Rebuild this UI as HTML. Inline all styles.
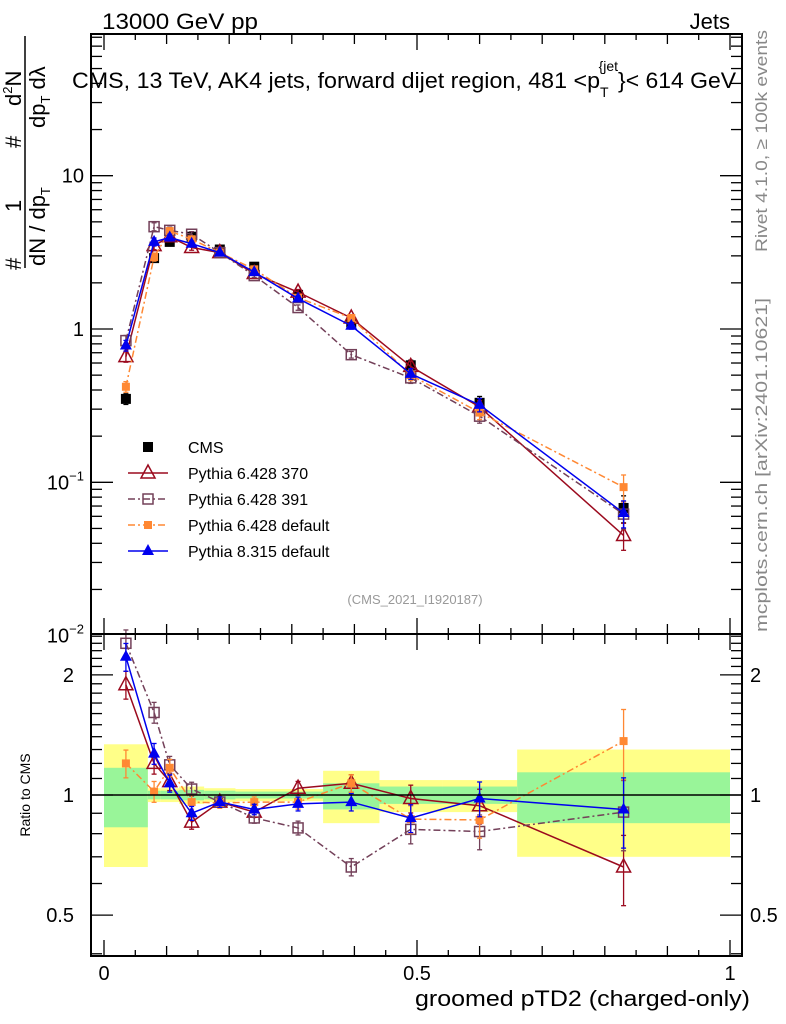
<!DOCTYPE html>
<html><head><meta charset="utf-8">
<style>
html,body{margin:0;padding:0;background:#fff;}
svg{display:block;font-family:"Liberation Sans",sans-serif;}
</style></head>
<body>
<svg id="chart" width="786" height="1024" viewBox="0 0 786 1024" xmlns="http://www.w3.org/2000/svg">
<text x="102" y="29" font-size="22" textLength="156" lengthAdjust="spacingAndGlyphs">13000 GeV pp</text>
<text x="730" y="29" font-size="22" text-anchor="end">Jets</text>
<g id="bands"></g>
<g id="series"></g>
<g id="axes"></g>
<text x="72" y="88" font-size="22"><tspan textLength="528" lengthAdjust="spacingAndGlyphs">CMS, 13 TeV, AK4 jets, forward dijet region, 481 &lt;p</tspan><tspan font-size="14" dy="9">T</tspan><tspan font-size="14" dy="-26" dx="-10">{jet</tspan><tspan dy="17" font-size="22" textLength="118" lengthAdjust="spacingAndGlyphs">}&lt; 614 GeV</tspan></text>
<text x="415" y="604" font-size="13" fill="#999" text-anchor="middle">(CMS_2021_I1920187)</text>
<g transform="rotate(-90)" font-size="22">
<text x="-270" y="21">#</text>
<text x="-212" y="21">1</text>
<text x="-148" y="21">#</text>
<text x="-106" y="21">d<tspan font-size="13" dy="-9">2</tspan><tspan dy="9">N</tspan></text>
<line x1="-268" y1="25" x2="-36" y2="25" stroke="#000" stroke-width="1.5"/>
<text x="-266" y="45">dN / dp<tspan font-size="13" dy="5">T</tspan></text>
<text x="-128" y="45">dp<tspan font-size="13" dy="5">T</tspan><tspan dy="-5"> dλ</tspan></text>
</g>
<text transform="translate(30,795) rotate(-90)" font-size="14" text-anchor="middle">Ratio to CMS</text>
<text x="750" y="1006" font-size="22" text-anchor="end" textLength="335" lengthAdjust="spacingAndGlyphs">groomed pTD2 (charged-only)</text>
<text transform="translate(767,252) rotate(-90)" font-size="17" fill="#888" textLength="222" lengthAdjust="spacingAndGlyphs">Rivet 4.1.0, ≥ 100k events</text>
<text transform="translate(767,632) rotate(-90)" font-size="17" fill="#888" textLength="334" lengthAdjust="spacingAndGlyphs">mcplots.cern.ch [arXiv:2401.10621]</text>
</svg>
<script>
const binEdges=[0,0.07,0.09,0.12,0.16,0.21,0.27,0.35,0.44,0.54,0.66,1];
const binCenters=[0.035,0.08,0.105,0.14,0.185,0.24,0.31,0.395,0.49,0.6,0.83];
const cmsValues=[0.35,2.9,3.7,4.0,3.3,2.55,1.67,1.1,0.58,0.33,0.068];
const p370Values=[0.66,3.5,4.0,3.4,3.15,2.3,1.74,1.18,0.57,0.31,0.045];
const p391Values=[0.84,4.65,4.4,4.15,3.15,2.23,1.38,0.68,0.48,0.27,0.062];
const p6defValues=[0.42,2.95,4.35,3.85,3.15,2.45,1.6,1.18,0.5,0.285,0.093];
const p8Values=[0.78,3.7,3.95,3.6,3.15,2.35,1.58,1.05,0.51,0.32,0.063];
const p370Ratio=[1.89,1.20,1.08,0.855,0.96,0.906,1.04,1.07,0.98,0.94,0.66];
const p391Ratio=[2.40,1.61,1.19,1.035,0.96,0.876,0.827,0.66,0.82,0.81,0.906];
const p6defRatio=[1.20,1.02,1.17,0.96,0.955,0.96,0.96,1.07,0.87,0.866,1.365];
const p8Ratio=[2.22,1.27,1.07,0.90,0.96,0.92,0.95,0.96,0.875,0.98,0.92];
const relErr=[0.08,0.06,0.05,0.04,0.03,0.03,0.04,0.05,0.08,0.10,0.2];
const greenHi=[1.17,1.025,1.025,1.03,1.025,1.02,1.02,1.07,1.05,1.05,1.14];
const greenLo=[0.83,0.975,0.975,0.97,0.975,0.98,0.98,0.92,0.95,0.95,0.85];
const yellowHi=[1.34,1.04,1.04,1.05,1.04,1.035,1.035,1.15,1.09,1.09,1.30];
const yellowLo=[0.66,0.96,0.96,0.95,0.96,0.965,0.965,0.85,0.906,0.906,0.70];
const mainTicks=["10","1","10\u207B\u00B9","10\u207B\u00B2"];
const mainTickVals=[10,1,0.1,0.01];
const ratioTicks=["2","1","0.5"];
const ratioTickVals=[2,1,0.5];
const xTicks=["0","0.5","1"];
const xTickVals=[0,0.5,1];

const NS="http://www.w3.org/2000/svg";
const L=91,R=742,MT=34,MB=634,RT=634,RB=956;
const X=v=>104+v*626;
const Y=v=>329-Math.log10(v)*153.3;
const YR=v=>795-Math.log10(v)*399;
function mk(tag,attrs,parent){const e=document.createElementNS(NS,tag);for(const k in attrs)e.setAttribute(k,attrs[k]);parent.appendChild(e);return e;}
const bands=document.getElementById('bands'),ser=document.getElementById('series'),ax=document.getElementById('axes');

for(let i=0;i<binCenters.length;i++){
  const x1=X(binEdges[i]),x2=X(binEdges[i+1]);
  const y=mk('rect',{x:x1,y:YR(yellowHi[i]),width:x2-x1,height:YR(yellowLo[i])-YR(yellowHi[i]),fill:'#ffff88'},bands);
  
  
  const g=mk('rect',{x:x1,y:YR(greenHi[i]),width:x2-x1,height:YR(greenLo[i])-YR(greenHi[i]),fill:'#99f599'},bands);
  
  
}
mk('line',{x1:L,x2:R,y1:YR(1),y2:YR(1),stroke:'#000','stroke-width':1.5},ax);

function marker(parent,type,color,x,y){
  let e;
  if(type==='fsq') e=mk('rect',{x:x-5,y:y-5,width:10,height:10,fill:color},parent);
  else if(type==='osq') e=mk('rect',{x:x-5,y:y-5,width:10,height:10,fill:'none',stroke:color,'stroke-width':1.5},parent);
  else if(type==='ssq') e=mk('rect',{x:x-4,y:y-4,width:8,height:8,fill:color},parent);
  else if(type==='otri') e=mk('path',{d:`M${x},${y-8}L${x+7},${y+5}L${x-7},${y+5}Z`,fill:'none',stroke:color,'stroke-width':1.5},parent);
  else e=mk('path',{d:`M${x},${y-7}L${x+6},${y+4}L${x-6},${y+4}Z`,fill:color},parent);
  return e;
}
function drawSeries(name,vals,type,color,dash,yf,line){
  const g=mk('g',{},ser);
  
  
  if(line){
    const pts=vals.map((v,i)=>X(binCenters[i])+','+yf(v)).join(' ');
    mk('polyline',{points:pts,fill:'none',stroke:color,'stroke-width':1.5,'stroke-dasharray':dash},g);
  }
  vals.forEach((v,i)=>{
    const x=X(binCenters[i]);
    const e=relErr[i];
    const y1=yf(v*(1+e)),y2=yf(v*(1-e));
    mk('line',{x1:x,x2:x,y1:y1,y2:y2,stroke:color,'stroke-width':1.3},g);
    mk('line',{x1:x-2.5,x2:x+2.5,y1:y1,y2:y1,stroke:color,'stroke-width':1.3},g);
    mk('line',{x1:x-2.5,x2:x+2.5,y1:y2,y2:y2,stroke:color,'stroke-width':1.3},g);
    const m=marker(g,type,color,x,yf(v));
    
    
  });
}
const C370='#9b0a1e',C391='#734059',C6='#ff8833',C8='#0000ee';
drawSeries('cms-data',cmsValues,'fsq','#000','',Y,false);
drawSeries('pythia6-370',p370Values,'otri',C370,'',Y,true);
drawSeries('pythia6-391',p391Values,'osq',C391,'7,3,2,3',Y,true);
drawSeries('pythia6-default',p6defValues,'ssq',C6,'7,3,2,3',Y,true);
drawSeries('pythia8-default',p8Values,'ftri',C8,'',Y,true);
drawSeries('ratio-pythia6-370',p370Ratio,'otri',C370,'',YR,true);
drawSeries('ratio-pythia6-391',p391Ratio,'osq',C391,'7,3,2,3',YR,true);
drawSeries('ratio-pythia6-default',p6defRatio,'ssq',C6,'7,3,2,3',YR,true);
drawSeries('ratio-pythia8-default',p8Ratio,'ftri',C8,'',YR,true);

const leg=[['CMS','fsq','#000',null,''],['Pythia 6.428 370','otri',C370,C370,''],['Pythia 6.428 391','osq',C391,C391,'7,3,2,3'],['Pythia 6.428 default','ssq',C6,C6,'7,3,2,3'],['Pythia 8.315 default','ftri',C8,C8,'']];
leg.forEach((l,i)=>{
  const y=447+i*26;
  const g=mk('g',{},ser);
  
  
  if(l[3]) mk('line',{x1:128,x2:168,y1:y,y2:y,stroke:l[3],'stroke-width':1.5,'stroke-dasharray':l[4]},g);
  marker(g,l[1],l[2],148,y);
  const t=mk('text',{x:188,y:y+6,'font-size':16},g);t.textContent=l[0];
});

[[MT,MB],[RT,RB]].forEach(([t,b],k)=>{
  const f=mk('rect',{x:L,y:t,width:R-L,height:b-t,fill:'none',stroke:'#000','stroke-width':2},ax);
  
  
});
for(let k=0;k<=20;k++){
  const v=k*0.05,x=X(v);
  const len=(k%10===0)?16:(k%2===0?10:6);
  [[MT,1],[MB,-1],[RT,1],[RB,-1]].forEach(([y,d])=>mk('line',{x1:x,x2:x,y1:y,y2:y+d*len,stroke:'#000','stroke-width':1.3},ax));
}
xTickVals.forEach((v,i)=>{const t=mk('text',{x:X(v),y:980,'font-size':20,'text-anchor':'middle'},ax);t.textContent=xTicks[i];
 });
for(let d=-2;d<=1;d++){for(let m=1;m<10;m++){const v=m*Math.pow(10,d),y=Y(v);if(y<MT||y>MB)continue;const len=m===1?22:11;
 mk('line',{x1:L,x2:L+len,y1:y,y2:y,stroke:'#000','stroke-width':1.3},ax);mk('line',{x1:R,x2:R-len,y1:y,y2:y,stroke:'#000','stroke-width':1.3},ax);}}
mainTickVals.forEach((v,i)=>{const t=mk('text',{x:84,y:Y(v)+7,'font-size':20,'text-anchor':'end'},ax);
 if(i>=2){t.innerHTML='10<tspan font-size="13" dy="-9">\u2212'+(i-1)+'</tspan>';}else t.textContent=mainTicks[i];
 });
[0.4,0.5,0.6,0.7,0.8,0.9,1,1.1,1.2,1.3,1.4,1.5,1.6,1.7,1.8,1.9,2,2.1,2.2,2.3,2.4,2.5].forEach(v=>{const y=YR(v);const len=(v===0.5||v===1||v===2)?22:11;
 mk('line',{x1:L,x2:L+len,y1:y,y2:y,stroke:'#000','stroke-width':1.3},ax);mk('line',{x1:R,x2:R-len,y1:y,y2:y,stroke:'#000','stroke-width':1.3},ax);});
ratioTickVals.forEach((v,i)=>{
 const t=mk('text',{x:74,y:YR(v)+7,'font-size':20,'text-anchor':'end'},ax);t.textContent=ratioTicks[i];
 
 const t2=mk('text',{x:750,y:YR(v)+7,'font-size':20},ax);t2.textContent=ratioTicks[i];
 });
</script>
</body></html>
